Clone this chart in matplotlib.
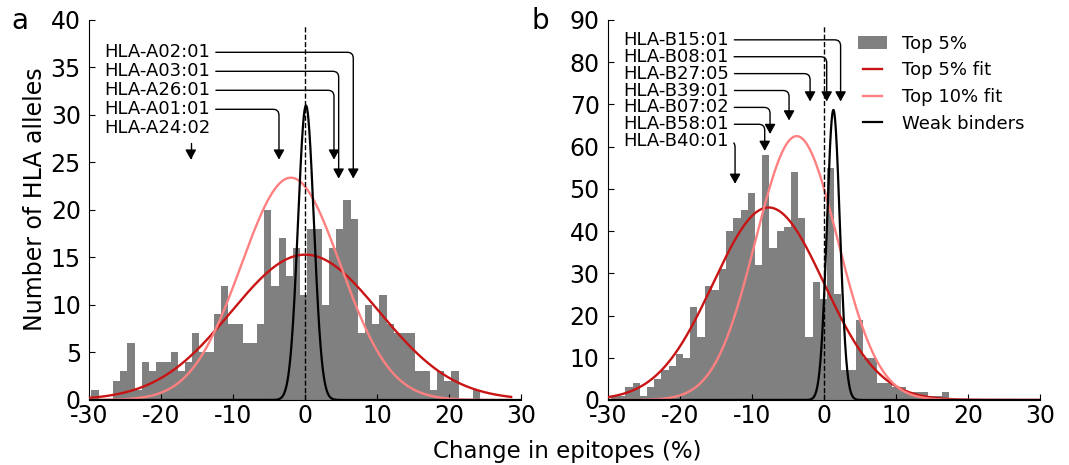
import numpy as np
import matplotlib
matplotlib.use("Agg")
import matplotlib.pyplot as plt
from matplotlib.patches import Patch
from matplotlib.lines import Line2D
from matplotlib.legend_handler import HandlerLine2D

# ---------------- data ----------------
# Panel a (HLA-A): histogram of change in epitopes (%), bins of width 1
a_bin_start = -29.7
a_counts = [1, 0, 0, 2, 3, 6, 1, 4, 3, 4, 4, 5, 3, 4, 7, 5, 5, 9, 12, 8, 8, 6, 6, 8,
            20, 12, 17, 13, 16, 11, 18, 18, 10, 16, 18, 21, 19, 7, 10, 8, 11, 8, 7,
            7, 7, 3, 3, 1, 3, 2, 3, 0, 0, 1]
# Panel b (HLA-B)
b_bin_start = -29.6
b_counts = [1, 1, 3, 4, 1, 3, 5, 7, 8, 11, 10, 22, 15, 27, 26, 31, 40, 43, 45, 49,
            32, 58, 36, 40, 41, 54, 43, 15, 28, 24, 55, 25, 7, 7, 19, 10, 10, 4, 4,
            3, 3, 2, 2, 2, 1, 1, 2]

# Fitted normal curves: (mean, sd, peak height)
a_fit5 = (0.0, 10.3, 15.3)
a_fit10 = (-2.0, 6.9, 23.4)
a_weak = (0.1, 1.1, 31.0)
b_fit5 = (-7.7, 7.7, 45.6)
b_fit10 = (-3.8, 5.7, 62.5)
b_weak = (1.3, 0.9, 68.7)

# Allele annotations: label, x of the arrow, y of the arrow tip
a_alleles = ["HLA-A02:01", "HLA-A03:01", "HLA-A26:01", "HLA-A01:01", "HLA-A24:02"]
a_allele_x = [6.67, 4.64, 3.99, -3.65, -15.9]
a_arrow_tip = [23.3, 23.3, 25.3, 25.3, 25.3]
b_alleles = ["HLA-B15:01", "HLA-B08:01", "HLA-B27:05", "HLA-B39:01",
             "HLA-B07:02", "HLA-B58:01", "HLA-B40:01"]
b_allele_x = [2.3, 0.37, -1.94, -4.86, -7.5, -8.24, -12.36]
b_arrow_tip = [70.7, 70.7, 70.7, 66.2, 63.0, 59.0, 51.2]

legend_labels = ["Top 5%", "Top 5% fit", "Top 10% fit", "Weak binders"]

# ---------------- style ----------------
plt.rcParams["font.family"] = ["DejaVu Sans"]
plt.rcParams["axes.unicode_minus"] = False
BAR = "#808080"
RED = "#c81414"
PINK = "#ff8080"

fig = plt.figure(figsize=(10.69, 4.65), dpi=100)
axA = fig.add_axes([0.0835, 0.1398, 0.4041, 0.8172])
axB = fig.add_axes([0.5688, 0.1398, 0.4041, 0.8172])


def gauss(x, p):
    m, s, h = p
    return h * np.exp(-(x - m) ** 2 / (2 * s ** 2))


def draw_panel(ax, start, counts, f5, f10, weak, xr, ymax, yticks,
               labels, lx, tips, text_y0, text_dy):
    counts = np.asarray(counts, dtype=float)
    left = start + np.arange(len(counts))
    ax.bar(left, counts, width=1.0, align="edge", color=BAR, linewidth=0,
           zorder=1)
    xs = np.linspace(xr[0], xr[1], 600)
    ax.plot(xs, gauss(xs, f5), color=RED, lw=1.7, zorder=3)
    ax.plot(xs, gauss(xs, f10), color=PINK, lw=1.7, zorder=3)
    xw = np.linspace(-30, 30, 2000)
    ax.plot(xw, gauss(xw, weak), color="black", lw=1.6, zorder=4)
    ax.plot([0, 0], [0, ymax * 0.985], ls="--", color="black", lw=1.0, zorder=5)
    ax.set_xlim(-30, 30)
    ax.set_ylim(0, ymax)
    ax.set_xticks([-30, -20, -10, 0, 10, 20, 30])
    ax.set_yticks(yticks)
    ax.spines["top"].set_visible(False)
    ax.spines["right"].set_visible(False)
    ax.tick_params(direction="in", length=4, labelsize=17,
                   top=False, right=False)
    ax.tick_params(axis="x", pad=3)
    ax.tick_params(axis="y", pad=6)
    for i, (lab, x, t) in enumerate(zip(labels, lx, tips)):
        ax.annotate(lab, xy=(x, t), xytext=(-27.9, text_y0 - i * text_dy),
                    ha="left", va="center", fontsize=13, zorder=6,
                    arrowprops=dict(arrowstyle="-|>,head_length=0.45,head_width=0.25",
                                    connectionstyle="angle,angleA=0,angleB=90,rad=6",
                                    color="black", lw=1.0, shrinkB=0))


draw_panel(axA, a_bin_start, a_counts, a_fit5, a_fit10, a_weak, (-30, 28.6),
           40, np.arange(0, 41, 5), a_alleles, a_allele_x, a_arrow_tip, 36.6, 2.0)
draw_panel(axB, b_bin_start, b_counts, b_fit5, b_fit10, b_weak, (-30, 30),
           90, np.arange(0, 91, 10), b_alleles, b_allele_x, b_arrow_tip, 85.3, 4.0)

fig.text(0.033, 0.572, "Number of HLA alleles", ha="center", va="center",
         rotation=90, fontsize=17)
fig.text(0.531, 0.03, "Change in epitopes (%)", ha="center", va="center",
         fontsize=16.5)
fig.text(0.0187, 0.955, "a", ha="center", va="center", fontsize=20)
fig.text(0.505, 0.955, "b", ha="center", va="center", fontsize=20)


class ShortLine(HandlerLine2D):
    def create_artists(self, legend, orig_handle, xdescent, ydescent, width,
                       height, fontsize, trans):
        y = height / 2.0 - ydescent
        x0 = -xdescent + 0.17 * width
        x1 = -xdescent + 0.83 * width
        ln = Line2D([x0, x1], [y, y], color=orig_handle.get_color(),
                    lw=orig_handle.get_linewidth(), transform=trans)
        return [ln]


handles = [Patch(facecolor=BAR, edgecolor="none"),
           Line2D([], [], color=RED, lw=1.7),
           Line2D([], [], color=PINK, lw=1.7),
           Line2D([], [], color="black", lw=1.6)]
axB.legend(handles, legend_labels, loc="upper right", bbox_to_anchor=(0.98, 0.98),
           frameon=False, fontsize=13, handlelength=1.6, handletextpad=0.8,
           labelspacing=0.48, borderaxespad=0,
           handler_map={Line2D: ShortLine()})

fig.savefig("out.png", dpi=100)
